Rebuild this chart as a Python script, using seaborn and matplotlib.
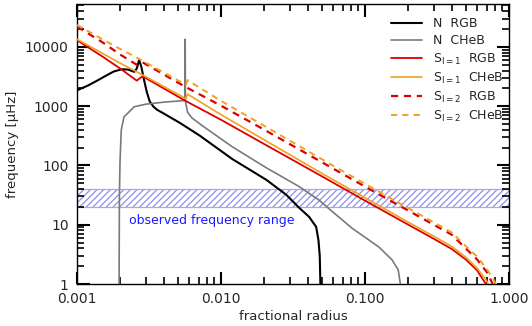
import numpy as np
import pandas as pd
import matplotlib
matplotlib.use("Agg")
import matplotlib.pyplot as plt
from matplotlib.lines import Line2D
import seaborn as sns

# ---------------- data ----------------
n_rgb_x = [0.001, 0.0012, 0.0014, 0.0016, 0.0018, 0.00205, 0.00226, 0.0025, 0.0026,
           0.0027, 0.0028, 0.0029, 0.00305, 0.0032, 0.0034, 0.0036, 0.0039, 0.0052,
           0.0071, 0.012, 0.0207, 0.0284, 0.0349, 0.0409, 0.0458, 0.0475, 0.0485, 0.049]
n_rgb_y = [1850, 2250, 2750, 3300, 3850, 4200, 4150, 3800, 4300,
           6000, 4600, 3000, 1750, 1200, 980, 870, 780, 520,
           320, 128, 57, 32, 19.3, 13.6, 9.2, 5.5, 3.0, 1.0]

n_cheb_x = [0.00196, 0.00197, 0.00199, 0.00203, 0.00212, 0.0025, 0.003, 0.004, 0.005,
            0.00562, 0.00564, 0.00566, 0.0057, 0.00586, 0.0063, 0.0074, 0.012, 0.0207,
            0.0349, 0.048, 0.0564, 0.081, 0.125, 0.154, 0.17, 0.176]
n_cheb_y = [1, 30, 120, 400, 660, 980, 1080, 1170, 1220,
            1250, 13500, 1250, 1100, 790, 630, 470, 206, 91,
            44, 26, 18.5, 8.8, 4.2, 2.56, 1.74, 1.0]

s1_rgb_x = [0.001, 0.0015, 0.002, 0.0026, 0.00285, 0.0056, 0.01, 0.02, 0.05, 0.1,
            0.2, 0.3, 0.4, 0.5, 0.6, 0.69]
s1_rgb_y = [13000, 6900, 4300, 2700, 3200, 1250, 590, 229, 66, 25.5,
            10, 5.8, 3.9, 2.6, 1.7, 1.0]

s1_cheb_x = [0.001, 0.0015, 0.002, 0.0026, 0.003, 0.004, 0.005, 0.0057, 0.00585, 0.01,
             0.02, 0.05, 0.1, 0.2, 0.3, 0.4, 0.5, 0.6, 0.68, 0.72]
s1_cheb_y = [13500, 7800, 5300, 3800, 3150, 2150, 1600, 1340, 1600, 720,
             270, 74, 28.5, 11, 6.4, 4.3, 2.85, 1.85, 1.25, 1.0]

s2_rgb_x = [0.001, 0.0015, 0.002, 0.0026, 0.00285, 0.0056, 0.01, 0.02, 0.05, 0.1,
            0.2, 0.3, 0.4, 0.5, 0.6, 0.7, 0.77]
s2_rgb_y = [22000, 12000, 7400, 5000, 5500, 2150, 1020, 400, 114, 44,
            17.3, 10, 6.8, 4.0, 2.6, 1.6, 1.0]

s2_cheb_x = [0.001, 0.0015, 0.002, 0.0026, 0.003, 0.004, 0.005, 0.0057, 0.00585, 0.01,
             0.02, 0.05, 0.1, 0.2, 0.3, 0.4, 0.5, 0.6, 0.7, 0.78, 0.81]
s2_cheb_y = [23500, 13500, 9200, 6600, 5450, 3700, 2750, 2300, 2750, 1230,
             465, 128, 49, 19, 11, 7.4, 4.4, 2.9, 1.8, 1.2, 1.0]

band_low, band_high = 20, 40
band_label = "observed frequency range"

x_ticks = [0.001, 0.01, 0.1, 1.0]
x_ticklabels = ["0.001", "0.010", "0.100", "1.000"]
y_ticks = [1, 10, 100, 1000, 10000]
y_ticklabels = ["1", "10", "100", "1000", "10000"]

labels = ["N  RGB", "N  CHeB", r"S$_{\rm l=1}$  RGB", r"S$_{\rm l=1}$  CHeB",
          r"S$_{\rm l=2}$  RGB", r"S$_{\rm l=2}$  CHeB"]

# ---------------- plotting ----------------
sns.set_style("ticks")
plt.rcParams.update({
    "font.family": ["DejaVu Sans"],
    "hatch.linewidth": 0.9,
    "hatch.color": "#8f8fe6",
    "mathtext.fontset": "dejavusans",
    "axes.axisbelow": False,
})

fig = plt.figure(figsize=(5.32, 3.26), dpi=100)
ax = fig.add_axes([77 / 532, 42 / 326, 432 / 532, 280 / 326])

RED = "#dd0000"
ORANGE = "#f2a020"
GRAY = "#7a7a7a"

series = [
    (n_rgb_x, n_rgb_y, "black", "-", 1.5),
    (n_cheb_x, n_cheb_y, GRAY, "-", 1.2),
    (s1_rgb_x, s1_rgb_y, RED, "-", 1.3),
    (s1_cheb_x, s1_cheb_y, ORANGE, "-", 1.2),
    (s2_rgb_x, s2_rgb_y, RED, "--", 1.6),
    (s2_cheb_x, s2_cheb_y, ORANGE, "--", 1.4),
]

handles = []
for (xs, ys, col, ls, lw), lab in zip(series, labels):
    df = pd.DataFrame({"x": xs, "y": ys})
    dash = (None if ls == "-" else (3.2, 2.6))
    sns.lineplot(data=df, x="x", y="y", ax=ax, sort=False, estimator=None,
                 color=col, lw=lw, zorder=3)
    line = ax.lines[-1]
    if dash is not None:
        line.set_dashes(dash)
    h = Line2D([0], [0], color=col, lw=lw)
    if dash is not None:
        h.set_dashes(dash)
    handles.append(h)

ax.set_xscale("log")
ax.set_yscale("log")

# hatched band
ax.fill_between([0.001, 1.0], band_low, band_high, facecolor="none",
                edgecolor="#8f8fe6", hatch="/////", linewidth=0, zorder=1)
ax.axhline(band_low, color="#a8a8f0", lw=0.9, zorder=1)
ax.axhline(band_high, color="#a8a8f0", lw=0.9, zorder=1)
ax.text(0.00229, 12.0, band_label, color="#1a1aff", fontsize=9,
        va="center", ha="left")

ax.set_xlim(0.001, 1.0)
ax.set_ylim(1, 53000)

ax.set_xticks(x_ticks)
ax.set_xticklabels(x_ticklabels)
ax.set_yticks(y_ticks)
ax.set_yticklabels(y_ticklabels)
ax.minorticks_on()

for s in ax.spines.values():
    s.set_linewidth(1.0)
    s.set_color("black")

ax.set_xlabel("fractional radius", fontsize=9.5, labelpad=3)
ax.set_ylabel("frequency [μHz]", fontsize=9.5, labelpad=4)

leg = ax.legend(handles, labels, loc="upper left", frameon=False,
                fontsize=9, handlelength=2.5, handletextpad=0.85,
                labelspacing=0.32, borderaxespad=0, borderpad=0,
                bbox_to_anchor=(0.727, 0.952))

ax.set_axisbelow(False)
ax.tick_params(which="both", direction="in", top=True, right=True,
               bottom=True, left=True, color="black")
ax.tick_params(which="major", length=9, width=1.5, pad=6, labelsize=10)
ax.tick_params(which="minor", length=5, width=1.2)
for t in ax.xaxis.get_major_ticks() + ax.yaxis.get_major_ticks():
    t.tick1line.set_visible(True)
    t.tick2line.set_visible(True)

fig.savefig("out.png", dpi=100)
